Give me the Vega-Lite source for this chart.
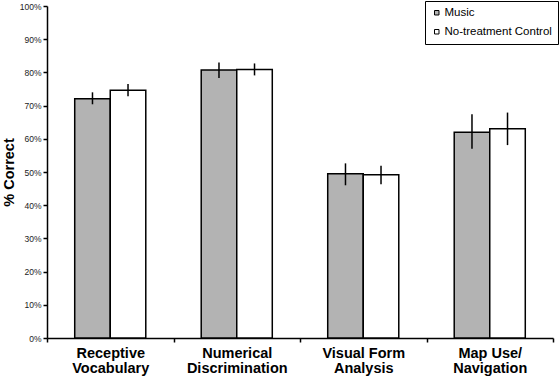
{
  "$schema": "https://vega.github.io/schema/vega-lite/v6.json",
  "width": 506,
  "height": 332,
  "autosize": {"type": "none"},
  "padding": {"left": 47, "top": 6, "right": 7, "bottom": 47},
  "background": "white",
  "config": {
    "font": "Liberation Sans",
    "view": {"stroke": null},
    "axis": {"grid": false, "domainColor": "black", "tickColor": "black", "domainWidth": 1.5, "tickWidth": 1.5}
  },
  "data": {
    "values": [
      {"task": "Receptive Vocabulary", "group": "Music", "pct": 0.721, "lo": 0.704, "hi": 0.740},
      {"task": "Receptive Vocabulary", "group": "No-treatment Control", "pct": 0.746, "lo": 0.728, "hi": 0.765},
      {"task": "Numerical Discrimination", "group": "Music", "pct": 0.807, "lo": 0.783, "hi": 0.830},
      {"task": "Numerical Discrimination", "group": "No-treatment Control", "pct": 0.809, "lo": 0.791, "hi": 0.827},
      {"task": "Visual Form Analysis", "group": "Music", "pct": 0.495, "lo": 0.460, "hi": 0.526},
      {"task": "Visual Form Analysis", "group": "No-treatment Control", "pct": 0.492, "lo": 0.463, "hi": 0.519},
      {"task": "Map Use/Navigation", "group": "Music", "pct": 0.620, "lo": 0.570, "hi": 0.674},
      {"task": "Map Use/Navigation", "group": "No-treatment Control", "pct": 0.630, "lo": 0.581, "hi": 0.679}
    ]
  },
  "resolve": {"axis": {"y": "independent"}, "scale": {"y": "shared"}},
  "encoding": {
    "x": {
      "field": "task", "type": "nominal", "sort": null,
      "scale": {"paddingInner": 0, "paddingOuter": 0},
      "axis": {
        "title": null, "labelAngle": 0, "tickBand": "extent", "tickSize": 4,
        "labelFont": "Liberation Sans", "labelFontWeight": "bold", "labelFontSize": 14.5, "labelColor": "black",
        "labelPadding": 4, "labelLineHeight": 15,
        "labelExpr": "datum.label == 'Receptive Vocabulary' ? ['Receptive', 'Vocabulary'] : datum.label == 'Numerical Discrimination' ? ['Numerical', 'Discrimination'] : datum.label == 'Visual Form Analysis' ? ['Visual Form', 'Analysis'] : datum.label == 'Map Use/Navigation' ? ['Map Use/', 'Navigation'] : ''"
      }
    },
    "xOffset": {"field": "group", "type": "nominal", "sort": null, "scale": {"paddingInner": 0, "paddingOuter": 0.78}}
  },
  "layer": [
    {
      "mark": {"type": "bar", "stroke": "black", "strokeWidth": 1.5},
      "encoding": {
        "y": {
          "field": "pct", "type": "quantitative",
          "scale": {"domain": [0, 1], "nice": false},
          "axis": {
            "title": "% Correct", "format": ".0%", "values": [0, 0.1, 0.2, 0.3, 0.4, 0.5, 0.6, 0.7, 0.8, 0.9, 1],
            "labelOverlap": false,
            "tickSize": 4, "labelFontSize": 8.5, "labelColor": "#222", "labelPadding": 2,
            "titleFontSize": 14.5, "titleFontWeight": "bold", "titleColor": "black", "titlePadding": 3
          }
        },
        "fill": {
          "field": "group", "type": "nominal", "sort": null,
          "scale": {"domain": ["Music", "No-treatment Control"], "range": ["#b3b3b3", "#ffffff"]},
          "legend": {
            "title": null, "orient": "none", "legendX": 378, "legendY": -5,
            "direction": "vertical",
            "symbolType": "square", "symbolSize": 20, "symbolStrokeColor": "black", "symbolStrokeWidth": 1,
            "labelFontSize": 11.5, "labelColor": "black", "labelOffset": 2,
            "rowPadding": 6, "padding": 6,
            "strokeColor": "black", "fillColor": "white"
          }
        }
      }
    },
    {
      "mark": {"type": "rule", "color": "black", "strokeWidth": 1.5},
      "encoding": {
        "y": {"field": "lo", "type": "quantitative", "axis": null},
        "y2": {"field": "hi"}
      }
    }
  ]
}
